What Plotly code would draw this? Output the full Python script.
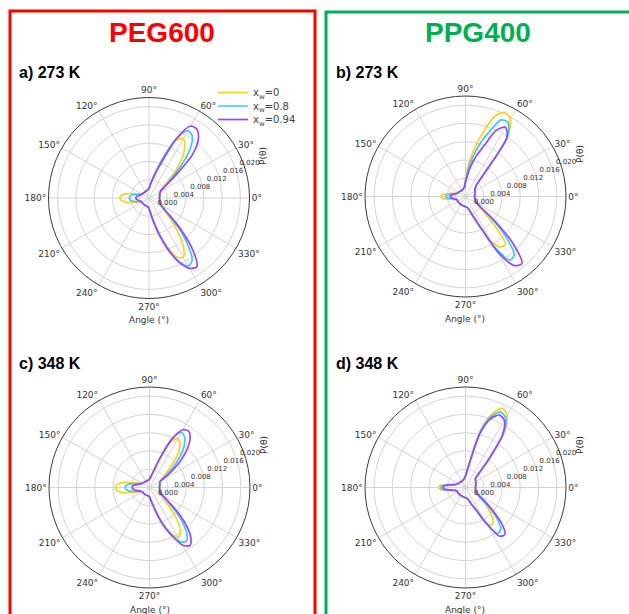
import plotly.graph_objects as go

W, H = 629, 614

# ---- data -------------------------------------------------------------
THETA = list(range(0, 360, 5))           # degrees, 5° steps
R_TICKS = [0.000, 0.004, 0.008, 0.012, 0.016, 0.020]
SERIES = ["x<sub>w</sub>=0", "x<sub>w</sub>=0.8", "x<sub>w</sub>=0.94"]

# P(theta) for PEG600 at 273 K
peg600_273_xw0 = [
    .0023, .0023, .0024, .0024, .0025, .0027,
    .0029, .0033, .0048, .0078, .0112, .0137,
    .0150, .0140, .0100, .0063, .0040, .0028,
    .0021, .0019, .0018, .0017, .0017, .0016,
    .0016, .0016, .0016, .0016, .0017, .0017,
    .0018, .0020, .0026, .0038, .0052, .0061,
    .0064, .0061, .0052, .0038, .0026, .0020,
    .0018, .0018, .0018, .0018, .0018, .0018,
    .0018, .0018, .0018, .0019, .0019, .0020,
    .0023, .0031, .0046, .0072, .0110, .0142,
    .0150, .0132, .0100, .0070, .0045, .0033,
    .0029, .0027, .0025, .0024, .0024, .0023]
peg600_273_xw08 = [
    .0023, .0023, .0024, .0024, .0025, .0027,
    .0029, .0036, .0058, .0098, .0140, .0165,
    .0170, .0145, .0098, .0062, .0040, .0028,
    .0021, .0019, .0018, .0017, .0017, .0016,
    .0016, .0016, .0016, .0016, .0017, .0017,
    .0018, .0019, .0022, .0030, .0038, .0042,
    .0043, .0042, .0038, .0030, .0022, .0019,
    .0018, .0018, .0018, .0018, .0018, .0018,
    .0018, .0018, .0018, .0019, .0019, .0020,
    .0023, .0031, .0048, .0075, .0115, .0152,
    .0172, .0165, .0130, .0090, .0055, .0037,
    .0030, .0027, .0025, .0024, .0024, .0023]
peg600_273_xw094 = [
    .0023, .0023, .0024, .0024, .0025, .0027,
    .0029, .0040, .0072, .0135, .0168, .0183,
    .0182, .0145, .0088, .0058, .0039, .0028,
    .0021, .0019, .0018, .0017, .0017, .0016,
    .0016, .0016, .0016, .0016, .0017, .0017,
    .0018, .0019, .0020, .0021, .0025, .0028,
    .0029, .0028, .0025, .0021, .0020, .0019,
    .0018, .0018, .0018, .0018, .0018, .0018,
    .0018, .0018, .0018, .0019, .0019, .0020,
    .0023, .0031, .0050, .0080, .0118, .0155,
    .0178, .0183, .0150, .0102, .0060, .0038,
    .0030, .0027, .0025, .0024, .0024, .0023]

# P(theta) for PPG400 at 273 K
ppg400_273_xw0 = [
    .0020, .0020, .0021, .0021, .0022, .0023,
    .0024, .0025, .0028, .0032, .0055, .0162,
    .0196, .0203, .0187, .0143, .0103, .0068,
    .0040, .0025, .0020, .0018, .0017, .0016,
    .0016, .0016, .0016, .0016, .0017, .0017,
    .0018, .0019, .0021, .0026, .0038, .0050,
    .0054, .0050, .0036, .0026, .0021, .0020,
    .0020, .0020, .0020, .0020, .0020, .0020,
    .0020, .0020, .0020, .0021, .0021, .0022,
    .0022, .0023, .0025, .0030, .0045, .0075,
    .0115, .0135, .0136, .0090, .0052, .0035,
    .0028, .0025, .0023, .0022, .0021, .0020]
ppg400_273_xw08 = [
    .0020, .0020, .0021, .0021, .0022, .0023,
    .0024, .0025, .0028, .0032, .0055, .0160,
    .0187, .0185, .0150, .0118, .0085, .0056,
    .0035, .0023, .0019, .0018, .0017, .0016,
    .0016, .0016, .0016, .0016, .0017, .0017,
    .0018, .0019, .0020, .0024, .0032, .0041,
    .0044, .0040, .0030, .0024, .0020, .0020,
    .0020, .0020, .0020, .0020, .0020, .0020,
    .0020, .0020, .0020, .0021, .0021, .0022,
    .0022, .0023, .0025, .0030, .0043, .0068,
    .0128, .0170, .0166, .0125, .0075, .0040,
    .0029, .0025, .0023, .0022, .0021, .0020]
ppg400_273_xw094 = [
    .0020, .0020, .0021, .0021, .0022, .0023,
    .0024, .0025, .0028, .0032, .0055, .0158,
    .0175, .0160, .0118, .0092, .0068, .0045,
    .0030, .0022, .0019, .0018, .0017, .0016,
    .0016, .0016, .0016, .0016, .0017, .0017,
    .0018, .0019, .0020, .0022, .0027, .0032,
    .0034, .0031, .0026, .0022, .0020, .0020,
    .0020, .0020, .0020, .0020, .0020, .0020,
    .0020, .0020, .0020, .0021, .0021, .0022,
    .0022, .0023, .0025, .0030, .0042, .0065,
    .0138, .0184, .0192, .0150, .0085, .0040,
    .0029, .0025, .0023, .0022, .0021, .0020]

# P(theta) for PEG600 at 348 K
peg600_348_xw0 = [
    .0022, .0022, .0023, .0023, .0024, .0025,
    .0027, .0032, .0045, .0068, .0098, .0116,
    .0124, .0110, .0072, .0042, .0028, .0022,
    .0018, .0017, .0016, .0016, .0016, .0016,
    .0016, .0016, .0016, .0016, .0017, .0018,
    .0019, .0022, .0030, .0042, .0062, .0072,
    .0075, .0072, .0062, .0042, .0030, .0022,
    .0019, .0018, .0018, .0018, .0018, .0018,
    .0018, .0018, .0018, .0018, .0019, .0019,
    .0020, .0025, .0035, .0052, .0080, .0110,
    .0126, .0118, .0095, .0065, .0042, .0032,
    .0027, .0025, .0024, .0023, .0023, .0022]
peg600_348_xw08 = [
    .0022, .0022, .0023, .0023, .0024, .0025,
    .0027, .0040, .0065, .0092, .0118, .0134,
    .0139, .0118, .0072, .0040, .0028, .0022,
    .0018, .0017, .0016, .0016, .0016, .0016,
    .0016, .0016, .0016, .0016, .0017, .0018,
    .0019, .0021, .0025, .0032, .0045, .0051,
    .0053, .0051, .0045, .0032, .0025, .0021,
    .0019, .0018, .0018, .0018, .0018, .0018,
    .0018, .0018, .0018, .0018, .0019, .0019,
    .0020, .0026, .0036, .0055, .0085, .0115,
    .0138, .0142, .0125, .0095, .0062, .0040,
    .0029, .0025, .0024, .0023, .0023, .0022]
peg600_348_xw094 = [
    .0022, .0022, .0023, .0023, .0024, .0025,
    .0028, .0052, .0085, .0115, .0138, .0150,
    .0146, .0118, .0070, .0040, .0028, .0022,
    .0018, .0017, .0016, .0016, .0016, .0016,
    .0016, .0016, .0016, .0016, .0017, .0018,
    .0019, .0020, .0022, .0026, .0033, .0037,
    .0038, .0036, .0032, .0026, .0022, .0020,
    .0019, .0018, .0018, .0018, .0018, .0018,
    .0018, .0018, .0018, .0018, .0019, .0019,
    .0020, .0027, .0037, .0057, .0088, .0117,
    .0146, .0155, .0140, .0110, .0074, .0045,
    .0031, .0026, .0024, .0023, .0023, .0022]

# P(theta) for PPG400 at 348 K
ppg400_348_xw0 = [
    .0022, .0022, .0023, .0023, .0024, .0025,
    .0026, .0027, .0028, .0035, .0075, .0148,
    .0182, .0191, .0172, .0133, .0060, .0035,
    .0026, .0021, .0019, .0018, .0017, .0016,
    .0016, .0016, .0016, .0016, .0017, .0017,
    .0018, .0019, .0021, .0025, .0038, .0055,
    .0059, .0054, .0036, .0025, .0021, .0020,
    .0020, .0020, .0020, .0020, .0020, .0020,
    .0020, .0020, .0020, .0021, .0021, .0022,
    .0022, .0023, .0025, .0030, .0040, .0055,
    .0088, .0100, .0095, .0075, .0057, .0038,
    .0029, .0026, .0024, .0023, .0022, .0022]
ppg400_348_xw08 = [
    .0022, .0022, .0023, .0023, .0024, .0025,
    .0026, .0027, .0028, .0035, .0075, .0145,
    .0176, .0182, .0166, .0128, .0060, .0035,
    .0025, .0021, .0019, .0018, .0017, .0016,
    .0016, .0016, .0016, .0016, .0017, .0017,
    .0018, .0019, .0021, .0024, .0036, .0050,
    .0054, .0050, .0034, .0024, .0021, .0020,
    .0020, .0020, .0020, .0020, .0020, .0020,
    .0020, .0020, .0020, .0021, .0021, .0022,
    .0022, .0023, .0025, .0030, .0040, .0055,
    .0090, .0123, .0120, .0100, .0068, .0042,
    .0030, .0026, .0024, .0023, .0022, .0022]
ppg400_348_xw094 = [
    .0022, .0022, .0023, .0023, .0024, .0025,
    .0026, .0027, .0028, .0035, .0075, .0142,
    .0170, .0175, .0160, .0122, .0060, .0035,
    .0025, .0021, .0019, .0018, .0017, .0016,
    .0016, .0016, .0016, .0016, .0017, .0017,
    .0018, .0019, .0021, .0024, .0032, .0046,
    .0049, .0045, .0032, .0024, .0021, .0020,
    .0020, .0020, .0020, .0020, .0020, .0020,
    .0020, .0020, .0020, .0021, .0021, .0022,
    .0022, .0023, .0025, .0030, .0040, .0052,
    .0088, .0130, .0134, .0113, .0078, .0050,
    .0033, .0027, .0024, .0023, .0022, .0022]

# ---- styling ----------------------------------------------------------
COLORS = ["#FFD21A", "#3CC8FF", "#9A46FF"]
TICK_FONT = "DejaVu Sans, sans-serif"
HEAD_FONT = "Liberation Sans, Arial, sans-serif"
RADIUS_PX = 100.5
RADIAL_LABEL_ANGLE = 26

panels = [
    ("a) 273 K", (149.0, 198.0), (peg600_273_xw0, peg600_273_xw08, peg600_273_xw094)),
    ("b) 273 K", (465.5, 196.5), (ppg400_273_xw0, ppg400_273_xw08, ppg400_273_xw094)),
    ("c) 348 K", (149.5, 487.5), (peg600_348_xw0, peg600_348_xw08, peg600_348_xw094)),
    ("d) 348 K", (465.5, 487.5), (ppg400_348_xw0, ppg400_348_xw08, ppg400_348_xw094)),
]
label_pos = [(17, 72), (334, 72), (17, 363), (334, 363)]
legend_rows = [92.5, 106, 119.5]
LEGEND_KEYS = ["legend", "legend2", "legend3"]

# radial tick labels start a little way out from their grid point
radial_ticktext = ["\u00a0\u00a0\u00a0" + f"{v:.3f}" for v in R_TICKS]


def fx(x):
    return x / W


def fy(y):
    return 1 - y / H


def note(text, x, y, font, **kw):
    return dict(text=text, x=fx(x), y=fy(y), xref="paper", yref="paper",
                xanchor=kw.pop("xanchor", "center"), yanchor="middle",
                showarrow=False, font=font, **kw)


fig = go.Figure()
annotations = []

for i, (label, (cx, cy), series) in enumerate(panels):
    key = "polar" if i == 0 else f"polar{i + 1}"
    for j, r in enumerate(series):
        fig.add_trace(go.Scatterpolar(
            r=list(r) + [r[0]],
            theta=THETA + [THETA[0] + 360],
            mode="lines",
            line=dict(color=COLORS[j], width=1.7, shape="spline", smoothing=0.8),
            name=SERIES[j],
            showlegend=(i == 0),
            legend=LEGEND_KEYS[j],
            subplot=key,
        ))
    fig.update_layout(**{key: dict(
        domain=dict(x=[fx(cx - RADIUS_PX), fx(cx + RADIUS_PX)],
                    y=[fy(cy + RADIUS_PX), fy(cy - RADIUS_PX)]),
        bgcolor="white",
        angularaxis=dict(
            rotation=0, direction="counterclockwise",
            tickmode="linear", tick0=0, dtick=30, ticks="",
            showline=True, linecolor="#3a3a3a", linewidth=1,
            gridcolor="#d4d4d4", gridwidth=1,
            tickfont=dict(family=TICK_FONT, size=9, color="#333"),
        ),
        radialaxis=dict(
            range=[0, 0.022], tickvals=R_TICKS, ticktext=radial_ticktext,
            angle=RADIAL_LABEL_ANGLE, tickangle=RADIAL_LABEL_ANGLE,
            side="clockwise",
            showline=False, ticks="",
            gridcolor="#d4d4d4", gridwidth=1,
            tickfont=dict(family=TICK_FONT, size=7, color="#333"),
        ),
    )})
    lx, ly = label_pos[i]
    annotations.append(note(f"<b>{label}</b>", lx, ly,
                            dict(family=HEAD_FONT, size=16, color="black"),
                            xanchor="left"))
    annotations.append(note("P(θ)", cx + 114, cy - 42,
                            dict(family=TICK_FONT, size=9, color="#333"),
                            textangle=-90))
    annotations.append(note("Angle (°)", cx, cy + 122,
                            dict(family=TICK_FONT, size=9, color="#333")))

annotations.append(note("<b>PEG600</b>", 162, 32,
                        dict(family=HEAD_FONT, size=28, color="#FF0000")))
annotations.append(note("<b>PPG400</b>", 478, 32,
                        dict(family=HEAD_FONT, size=28, color="#00B050")))

shapes = [
    dict(type="rect", xref="paper", yref="paper",
         x0=fx(10), x1=fx(315), y0=fy(640), y1=fy(11),
         line=dict(color="#FF0000", width=3)),
    dict(type="rect", xref="paper", yref="paper",
         x0=fx(326), x1=fx(660), y0=fy(640), y1=fy(12),
         line=dict(color="#00B050", width=3)),
]

legend_layout = {}
for key, row in zip(LEGEND_KEYS, legend_rows):
    legend_layout[key] = dict(
        x=fx(213), y=fy(row), xanchor="left", yanchor="middle",
        bgcolor="rgba(0,0,0,0)", itemwidth=30,
        font=dict(family=TICK_FONT, size=10, color="#444"),
    )

fig.update_layout(
    width=W, height=H,
    margin=dict(l=0, r=0, t=0, b=0),
    paper_bgcolor="white",
    annotations=annotations,
    shapes=shapes,
    **legend_layout,
)

fig.write_html("out.html")
